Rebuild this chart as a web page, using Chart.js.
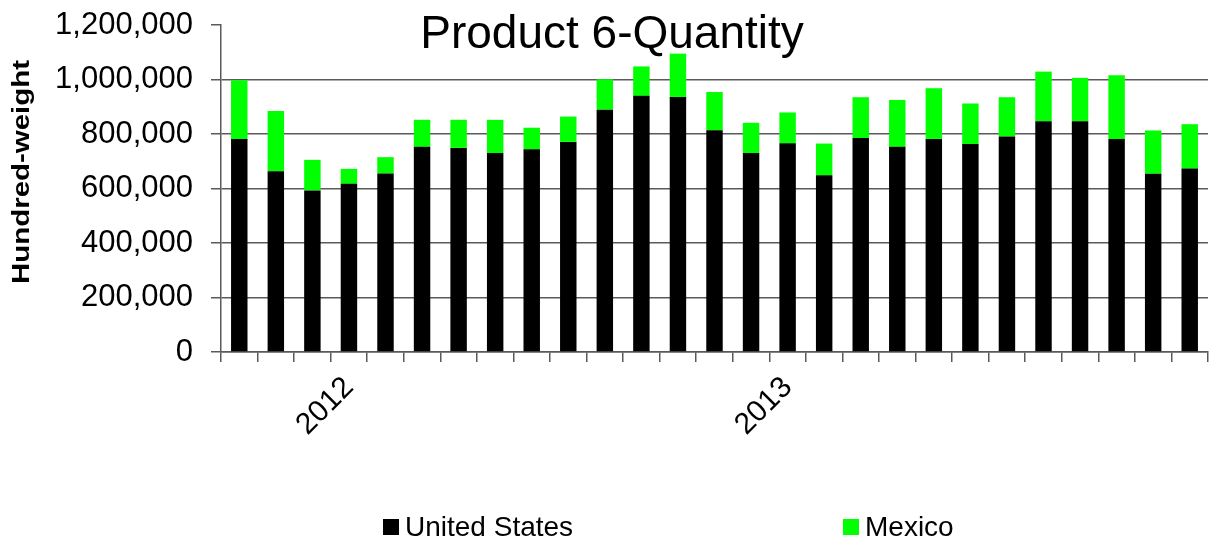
<!DOCTYPE html>
<html>
<head>
<meta charset="utf-8">
<title>Product 6-Quantity</title>
<script src="https://cdn.jsdelivr.net/npm/chart.js@4/dist/chart.umd.min.js"></script>
<style>
  html, body { margin: 0; padding: 0; background: #fff; }
  #wrap { position: relative; width: 1214px; height: 543px; }
  #legend {
    position: absolute; left: 0; top: 510px; width: 1214px; height: 34px;
    font: 28px "Liberation Sans", Arial, sans-serif; color: #000;
  }
  .item { position: absolute; top: 0; height: 34px; display: flex; align-items: center; }
  .box { width: 16px; height: 16px; margin-right: 6px; }
</style>
</head>
<body>
<div id="wrap">
  <canvas id="bar" width="1214" height="543"></canvas>
  <div id="legend"></div>
</div>
<script>
const chartTitle = "Product 6-Quantity";
const yTitle = "Hundred-weight";

// monthly periods, Oct 2011 - Dec 2013
const months = [
  "Oct 2011", "Nov 2011", "Dec 2011",
  "Jan 2012", "Feb 2012", "Mar 2012", "Apr 2012", "May 2012", "Jun 2012",
  "Jul 2012", "Aug 2012", "Sep 2012", "Oct 2012", "Nov 2012", "Dec 2012",
  "Jan 2013", "Feb 2013", "Mar 2013", "Apr 2013", "May 2013", "Jun 2013",
  "Jul 2013", "Aug 2013", "Sep 2013", "Oct 2013", "Nov 2013", "Dec 2013"
];

const unitedStates = [
  782000, 663000, 593000,
  617000, 655000, 753000, 749000, 730000, 744000,
  771000, 889000, 940000, 936000, 814000, 730000,
  766000, 649000, 785000, 753000, 782000, 763000,
  791000, 847000, 847000, 782000, 654000, 673000
];

const mexico = [
  215000, 221000, 112000,
  55000, 60000, 99000, 103000, 122000, 79000,
  93000, 112000, 108000, 159000, 140000, 111000,
  113000, 116000, 150000, 172000, 186000, 149000,
  144000, 182000, 159000, 234000, 159000, 163000
];

const seriesNames = ["United States", "Mexico"];
const seriesColors = ["#000000", "#00ff00"];

const yTicks = [0, 200000, 400000, 600000, 800000, 1000000, 1200000];

const FONT = '"Liberation Sans", Arial, sans-serif';
const LINE = "#5a5a5a";

// chart title overlaps the top of the plot and the axis title is stretched,
// so both are drawn by hand
const titlesPlugin = {
  id: "titles",
  afterDraw(chart) {
    const ctx = chart.ctx;
    ctx.save();
    ctx.fillStyle = "#000";
    ctx.textAlign = "center";
    ctx.textBaseline = "alphabetic";
    ctx.font = "46px " + FONT;
    ctx.fillText(chartTitle, 612, 48);

    ctx.font = "bold 24px " + FONT;
    const w = ctx.measureText(yTitle).width;
    ctx.translate(22, 172);
    ctx.rotate(-Math.PI / 2);
    ctx.scale(224 / w, 1);
    ctx.textBaseline = "middle";
    ctx.fillText(yTitle, 0, 0);
    ctx.restore();
  }
};

const barConfig = {
  type: "bar",
  data: {
    labels: months,
    datasets: [
      {
        label: seriesNames[0],
        data: unitedStates,
        backgroundColor: seriesColors[0],
        categoryPercentage: 1,
        barPercentage: 0.45,
      },
      {
        label: seriesNames[1],
        data: mexico,
        backgroundColor: seriesColors[1],
        categoryPercentage: 1,
        barPercentage: 0.45,
      },
    ],
  },
  options: {
    responsive: false,
    animation: false,
    layout: { padding: { top: 25, right: 6, left: 0, bottom: 0 } },
    plugins: {
      legend: { display: false },
      tooltip: { enabled: false },
    },
    scales: {
      x: {
        stacked: true,
        afterFit(scale) {
          scale.height = 191;
          scale.paddingLeft = 0;
          scale.paddingRight = 0;
        },
        border: { display: true, color: LINE, width: 1.5 },
        grid: {
          display: true,
          drawOnChartArea: false,
          drawTicks: true,
          tickLength: 10,
          color: LINE,
          lineWidth: 1.5,
        },
        ticks: {
          autoSkip: false,
          maxRotation: 45,
          minRotation: 45,
          padding: 8,
          color: "#000",
          font: { family: FONT, size: 30 },
          callback(value) {
            const m = this.getLabelForValue(value);
            return m.startsWith("Jan") ? m.slice(4) : "";
          },
        },
      },
      y: {
        stacked: true,
        min: 0,
        max: 1200000,
        afterFit(scale) {
          scale.width = 221;
          scale.paddingTop = 0;
          scale.paddingBottom = 0;
        },
        afterBuildTicks(scale) { scale.ticks = yTicks.map(v => ({ value: v })); },
        border: { display: true, color: LINE, width: 1.5 },
        grid: {
          drawTicks: true,
          tickLength: 10,
          tickColor: LINE,
          lineWidth: 1.5,
          color: ctx => (ctx.tick && ctx.tick.value === 1200000 ? "rgba(0,0,0,0)" : LINE),
        },
        ticks: {
          padding: 18,
          color: "#000",
          font: { family: FONT, size: 31 },
          callback: v => v.toLocaleString("en-US"),
        },
      },
    },
  },
  plugins: [titlesPlugin],
};

const barCtx = document.getElementById("bar");
window.myBar = new Chart(barCtx, barConfig);

// legend spread across the bottom
const legendPos = [383, 843];
const legendEl = document.getElementById("legend");
seriesNames.forEach((name, i) => {
  const item = document.createElement("div");
  item.className = "item";
  item.style.left = legendPos[i] + "px";
  item.innerHTML = '<span class="box" style="background:' + seriesColors[i] + '"></span>' + name;
  legendEl.appendChild(item);
});
</script>
</body>
</html>
